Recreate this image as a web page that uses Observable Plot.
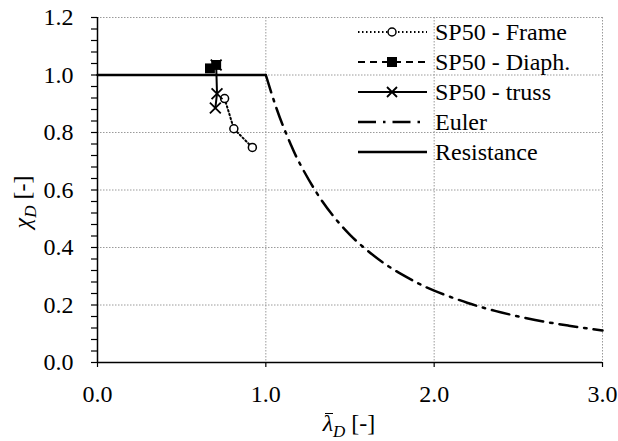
<!DOCTYPE html>
<html><head><meta charset="utf-8">
<script src="https://cdn.jsdelivr.net/npm/d3@7"></script>
<script src="https://cdn.jsdelivr.net/npm/@observablehq/plot@0.6"></script>
<style>
body{margin:0;background:#fff}
#wrap{position:relative;width:618px;height:441px;font-family:"Liberation Serif","Times New Roman",serif}
#chart svg{display:block}
.ttl{position:absolute;font-size:24px;line-height:24px;white-space:nowrap;color:#000}
.ttl sub{font-size:17px;vertical-align:-6px;line-height:0}
#xtitle{left:0;width:618px;text-align:center;top:411px;padding-left:80px;box-sizing:border-box}
#ytitle{left:30px;top:202px;transform:translate(-50%,-50%) rotate(-90deg);transform-origin:center;margin-left:-8px}
.lam{position:relative;display:inline-block}
.lam::before{content:"";position:absolute;left:2px;right:0;top:2px;border-top:1.8px solid #000}
</style>
</head><body>
<div id="wrap"><div id="chart"></div>
<div id="xtitle" class="ttl"><i class="lam">λ</i><sub><i>D</i></sub> [-]</div>
<div id="ytitle" class="ttl"><i>χ</i><sub><i>D</i></sub> [-]</div>
</div>
<script>
// ---- data ----
const seriesNames = ["SP50 - Frame", "SP50 - Diaph.", "SP50 - truss", "Euler", "Resistance"];
const frameX = [0.755, 0.81, 0.92];
const frameY = [0.918, 0.813, 0.748];
const diaphX = [0.668, 0.705];
const diaphY = [1.023, 1.035];
const trussX = [0.705, 0.71, 0.70];
const trussY = [1.035, 0.935, 0.885];
const eulerX = [1.0, 1.05, 1.1, 1.15, 1.2, 1.3, 1.4, 1.5, 1.6, 1.7, 1.8, 1.9, 2.0, 2.2, 2.4, 2.6, 2.8, 3.0];
const eulerY = [1.0, 0.907, 0.826, 0.756, 0.694, 0.592, 0.510, 0.444, 0.391, 0.346, 0.309, 0.277, 0.250, 0.207, 0.174, 0.148, 0.128, 0.111];
const resistX = [0.0, 1.0];
const resistY = [1.0, 1.0];
const xTickValues = [0, 1, 2, 3];
const yTickValues = [0, 0.2, 0.4, 0.6, 0.8, 1.0, 1.2];
const yMinorTicks = [0,0.04,0.08,0.12,0.16,0.2,0.24,0.28,0.32,0.36,0.4,0.44,0.48,0.52,0.56,0.6,0.64,0.68,0.72,0.76,0.8,0.84,0.88,0.92,0.96,1.0,1.04,1.08,1.12,1.16,1.2];

const FONT = "Liberation Serif";
const zip = (xs, ys) => xs.map((x, i) => ({x, y: ys[i]}));
const frame = zip(frameX, frameY);
const diaph = zip(diaphX, diaphY);
const truss = zip(trussX, trussY);
const euler = zip(eulerX, eulerY);
const resist = zip(resistX, resistY);

const gridStyle = {stroke: "#9a9a9a", strokeWidth: 1, strokeDasharray: "1.5,1.5"};

const plot = Plot.plot({
  width: 618, height: 441,
  marginLeft: 97, marginRight: 16, marginTop: 17, marginBottom: 79,
  x: {domain: [0, 3], label: null},
  y: {domain: [0, 1.2], label: null},
  marks: [
    Plot.ruleY(yTickValues, gridStyle),
    Plot.ruleX(xTickValues, gridStyle),
    Plot.axisY(yMinorTicks, {tickSize: 6, tickFormat: () => "", strokeWidth: 1.2}),
    Plot.axisY(yTickValues, {tickSize: 0, tickPadding: 24, tickFormat: d => d.toFixed(1), fontSize: 24}),
    Plot.axisX(xTickValues, {tickSize: 5, tickPadding: 17, tickFormat: d => d.toFixed(1), fontSize: 24, strokeWidth: 1.2}),
    Plot.ruleX([0], {stroke: "black", strokeWidth: 1.5}),
    Plot.ruleY([0], {stroke: "black", strokeWidth: 1.5}),
    // SP50 - Frame
    Plot.line(frame, {x: "x", y: "y", stroke: "black", strokeWidth: 2, strokeDasharray: "1.5,2.5"}),
    Plot.dot(frame, {x: "x", y: "y", r: 4, fill: "white", stroke: "black", strokeWidth: 1.5}),
    // SP50 - truss
    Plot.line(truss, {x: "x", y: "y", stroke: "black", strokeWidth: 2}),
    Plot.dot(truss, {x: "x", y: "y", symbol: "times", r: 5, stroke: "black", strokeWidth: 1.8}),
    // SP50 - Diaph.
    Plot.line(diaph, {x: "x", y: "y", stroke: "black", strokeWidth: 2, strokeDasharray: "7,5"}),
    Plot.dot(diaph, {x: "x", y: "y", symbol: "square", r: 5.6, fill: "black"}),
    // Euler
    Plot.line(euler, {x: "x", y: "y", curve: "natural", stroke: "black", strokeWidth: 2.5, strokeDasharray: "18,7,2.5,7"}),
    // Resistance
    Plot.line(resist, {x: "x", y: "y", stroke: "black", strokeWidth: 2.5})
  ]
});
document.getElementById("chart").appendChild(plot);

const svg = d3.select(plot);
svg.attr("font-family", FONT);

// ---- legend (inside plot area, top-right) ----
const leg = svg.append("g");
const legStyles = [
  {dash: "1.5,2.5", sym: "circle"},
  {dash: "7,5", sym: "square"},
  {dash: null, sym: "times"},
  {dash: "18,7,2.5,7", sym: null},
  {dash: null, sym: null}
];
seriesNames.forEach((name, i) => {
  const cy = 32 + i * 30;
  const st = legStyles[i];
  leg.append("line").attr("x1", 358).attr("x2", 427).attr("y1", cy).attr("y2", cy)
    .attr("stroke", "black").attr("stroke-width", i >= 3 ? 2.5 : 2)
    .attr("stroke-dasharray", st.dash);
  if (st.sym === "circle") {
    leg.append("circle").attr("cx", 392).attr("cy", cy).attr("r", 4).attr("fill", "white").attr("stroke", "black").attr("stroke-width", 1.5);
  } else if (st.sym === "square") {
    leg.append("rect").attr("x", 387).attr("y", cy - 5).attr("width", 10).attr("height", 10).attr("fill", "black");
  } else if (st.sym === "times") {
    leg.append("path").attr("d", `M${387},${cy-5}L${397},${cy+5}M${387},${cy+5}L${397},${cy-5}`).attr("stroke", "black").attr("stroke-width", 1.8);
  }
  leg.append("text").attr("x", 435).attr("y", cy).attr("dy", "0.35em")
    .attr("text-anchor", "start").attr("font-size", 24).text(name);
});

svg.selectAll("g[aria-label$='tick label']").attr("font-variant", null);
svg.selectAll("text").attr("font-family", FONT);
</script>
</body></html>
